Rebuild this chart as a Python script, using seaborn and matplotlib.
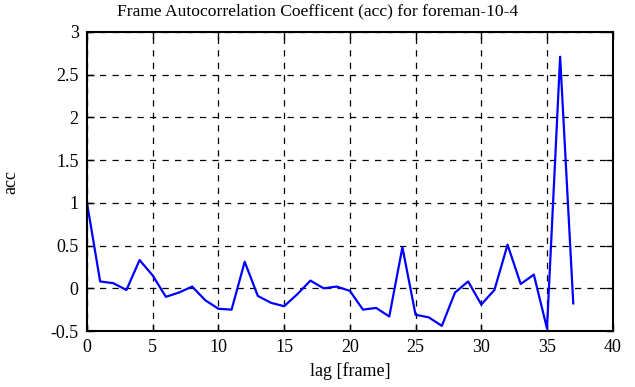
import numpy as np
import pandas as pd
import seaborn as sns
import matplotlib
matplotlib.use('Agg')
import matplotlib.pyplot as plt

lags = list(range(38))
acc = [1.0, 0.08, 0.06, -0.02, 0.33, 0.15, -0.10, -0.05, 0.02, -0.14,
       -0.24, -0.25, 0.31, -0.09, -0.17, -0.21, -0.07, 0.09, 0.0, 0.02,
       -0.03, -0.25, -0.23, -0.33, 0.48, -0.31, -0.34, -0.44, -0.05, 0.08,
       -0.19, -0.02, 0.51, 0.05, 0.16, -0.47, 2.71, -0.18]

sns.set_style('ticks')
plt.rcParams['font.family'] = ['Liberation Serif', 'DejaVu Serif']
plt.rcParams['xtick.direction'] = 'in'
plt.rcParams['ytick.direction'] = 'in'
plt.rcParams['text.color'] = 'black'
plt.rcParams['axes.labelcolor'] = 'black'
plt.rcParams['xtick.color'] = 'black'
plt.rcParams['ytick.color'] = 'black'

fig = plt.figure(figsize=(6.35, 3.87), dpi=100)
ax = fig.add_axes([87 / 635, 1 - 331 / 387, (612.7 - 87) / 635, (331 - 32) / 387])

data = pd.DataFrame({'lag': lags, 'acc': acc})
sns.lineplot(data=data, x='lag', y='acc', ax=ax, color='#0000ff', linewidth=1.6)

ax.set_xlim(0, 40)
ax.set_ylim(-0.5, 3)
ax.set_xticks(range(0, 41, 5))
ax.set_yticks(np.arange(-0.5, 3.01, 0.5))
ax.set_yticklabels(['-0.5', '0', '0.5', '1', '1.5', '2', '2.5', '3'])
ax.grid(True, color='black', linestyle=(0, (5, 5)), linewidth=0.9)
ax.tick_params(top=True, right=True, length=5, width=1, labelsize=13, pad=6)
for s in ax.spines.values():
    s.set_linewidth(1.5)
    s.set_color('black')

ax.set_xlabel('lag [frame]', fontsize=13, labelpad=4)
ax.set_ylabel('acc', fontsize=13)
ax.yaxis.set_label_coords(-0.128, 0.5)
fig.text(0.5, 1 - 3 / 387, 'Frame Autocorrelation Coefficent (acc) for foreman-10-4',
         fontsize=12.6, ha='center', va='top')

plt.savefig('out.png', dpi=100)
